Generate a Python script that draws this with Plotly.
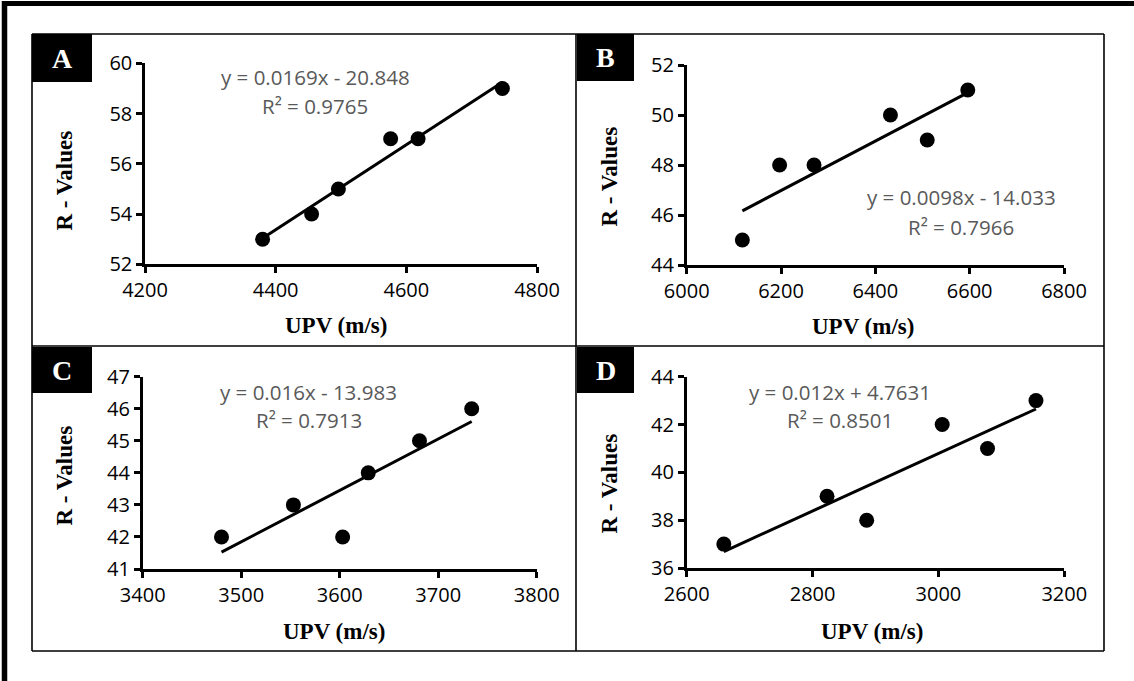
import numpy as np
import plotly.graph_objects as go

W, H = 1134, 681

# ---- data ----
panel_labels = ["A", "B", "C", "D"]
upv_a = [4380, 4455, 4496, 4576, 4618, 4747]
r_a = [53, 54, 55, 57, 57, 59]
upv_b = [6118, 6197, 6270, 6432, 6510, 6596]
r_b = [45, 48, 48, 50, 49, 51]
upv_c = [3480, 3553, 3603, 3629, 3681, 3734]
r_c = [42, 43, 42, 44, 45, 46]
upv_d = [2659, 2823, 2886, 3006, 3078, 3155]
r_d = [37, 39, 38, 42, 41, 43]
eq_text = ["y = 0.0169x - 20.848", "y = 0.0098x - 14.033",
           "y = 0.016x - 13.983", "y = 0.012x + 4.7631"]
r2_text = ["R² = 0.9765", "R² = 0.7966", "R² = 0.7913", "R² = 0.8501"]
x_ranges = [[4200, 4800], [6000, 6800], [3400, 3800], [2600, 3200]]
x_dticks = [200, 200, 100, 200]
y_ranges = [[52, 60], [44, 52], [41, 47], [36, 44]]
y_dticks = [2, 2, 1, 2]
x_title = "UPV (m/s)"
y_title = "R - Values"

xs = [upv_a, upv_b, upv_c, upv_d]
ys = [r_a, r_b, r_c, r_d]

# ---- layout geometry (pixels) ----
plot_x = [(145, 537), (686.7, 1064), (142.7, 536.7), (686.7, 1064.3)]
plot_y = [(63.3, 264.3), (65, 265), (376.7, 569), (376.7, 568)]
xt_pos = [(336, 326), (863, 327), (334, 631), (872, 631)]
yt_pos = [(63.5, 181), (608.5, 177), (63.5, 476), (608.5, 484)]
eq_pos = [(315, 77, 106), (961, 197, 227), (308.5, 392, 420), (839.5, 392, 420)]
box_pos = [(32, 34, 92, 82), (577, 34, 634, 81), (32, 347, 92, 393), (577, 347, 634, 393)]


def px(x):
    return x / W


def py(y):
    return 1 - y / H


fig = go.Figure()
layout = dict(
    width=W, height=H,
    margin=dict(l=0, r=0, t=0, b=0, pad=0, autoexpand=False),
    paper_bgcolor="white", plot_bgcolor="rgba(0,0,0,0)", showlegend=False,
)
annotations = []
shapes = []

tick_font = dict(family="Open Sans", size=20, color="black")
title_font = dict(family="Liberation Serif", size=23, color="black")

for i in range(4):
    n = "" if i == 0 else str(i + 1)
    xa, ya = "x" + n, "y" + n
    x = np.array(xs[i], dtype=float)
    y = np.array(ys[i], dtype=float)
    k, b = np.polyfit(x, y, 1)
    xl = np.array([x.min(), x.max()])
    fig.add_trace(go.Scatter(x=xl, y=k * xl + b, mode="lines",
                             line=dict(color="black", width=3),
                             xaxis=xa, yaxis=ya, hoverinfo="skip"))
    fig.add_trace(go.Scatter(x=x, y=y, mode="markers",
                             marker=dict(color="black", size=15),
                             xaxis=xa, yaxis=ya))
    common = dict(showline=True, linecolor="black", linewidth=2.5,
                  ticks="outside", ticklen=6, tickwidth=2.5, tickcolor="black",
                  showgrid=False, zeroline=False, tickfont=tick_font,
                  fixedrange=True, automargin=False)
    layout["xaxis" + n] = dict(domain=[px(plot_x[i][0]), px(plot_x[i][1])],
                               range=x_ranges[i], dtick=x_dticks[i],
                               tick0=x_ranges[i][0], anchor=ya, **common)
    layout["yaxis" + n] = dict(domain=[py(plot_y[i][1]), py(plot_y[i][0])],
                               range=y_ranges[i], dtick=y_dticks[i],
                               tick0=y_ranges[i][0], anchor=xa, **common)
    # axis titles
    annotations.append(dict(text="<b>%s</b>" % x_title, xref="paper", yref="paper",
                            x=px(xt_pos[i][0]), y=py(xt_pos[i][1]),
                            xanchor="center", yanchor="middle", showarrow=False,
                            font=title_font))
    annotations.append(dict(text="<b>%s</b>" % y_title, xref="paper", yref="paper",
                            x=px(yt_pos[i][0]), y=py(yt_pos[i][1]), textangle=-90,
                            xanchor="center", yanchor="middle", showarrow=False,
                            font=title_font))
    # trendline equation
    ex, ey1, ey2 = eq_pos[i]
    eq_font = dict(family="Open Sans", size=20.5, color="#595959")
    annotations.append(dict(text=eq_text[i], xref="paper", yref="paper",
                            x=px(ex), y=py(ey1), xanchor="center", yanchor="middle",
                            showarrow=False, font=eq_font))
    annotations.append(dict(text=r2_text[i], xref="paper", yref="paper",
                            x=px(ex), y=py(ey2), xanchor="center", yanchor="middle",
                            showarrow=False, font=eq_font))
    # panel letter box
    x0, y0, x1, y1 = box_pos[i]
    shapes.append(dict(type="rect", xref="paper", yref="paper",
                       x0=px(x0), x1=px(x1), y0=py(y1), y1=py(y0),
                       fillcolor="black", line=dict(width=0), layer="above"))
    annotations.append(dict(text="<b>%s</b>" % panel_labels[i], xref="paper", yref="paper",
                            x=px((x0 + x1) / 2), y=py((y0 + y1) / 2),
                            xanchor="center", yanchor="middle", showarrow=False,
                            font=dict(family="Liberation Serif", size=28, color="white")))

# panel frames (2x2 grid)
gx = [32, 576, 1104]
gy = [34, 346, 651]
for xv in gx:
    shapes.append(dict(type="line", xref="paper", yref="paper",
                       x0=px(xv), x1=px(xv), y0=py(gy[0]), y1=py(gy[2]),
                       line=dict(color="black", width=1.6)))
for yv in gy:
    shapes.append(dict(type="line", xref="paper", yref="paper",
                       x0=px(gx[0]), x1=px(gx[2]), y0=py(yv), y1=py(yv),
                       line=dict(color="black", width=1.6)))
# thick outer frame (top and left)
shapes.append(dict(type="line", xref="paper", yref="paper",
                   x0=px(2), x1=1, y0=py(3.5), y1=py(3.5),
                   line=dict(color="black", width=5)))
shapes.append(dict(type="line", xref="paper", yref="paper",
                   x0=px(4.5), x1=px(4.5), y0=py(1), y1=0,
                   line=dict(color="black", width=5.5)))

layout["annotations"] = annotations
layout["shapes"] = shapes
fig.update_layout(**layout)
fig.write_html("out.html",
               config={"displayModeBar": False, "staticPlot": False},
               post_script="document.documentElement.style.margin='0';"
                           "document.body.style.margin='0';"
                           "document.body.style.padding='0';")
